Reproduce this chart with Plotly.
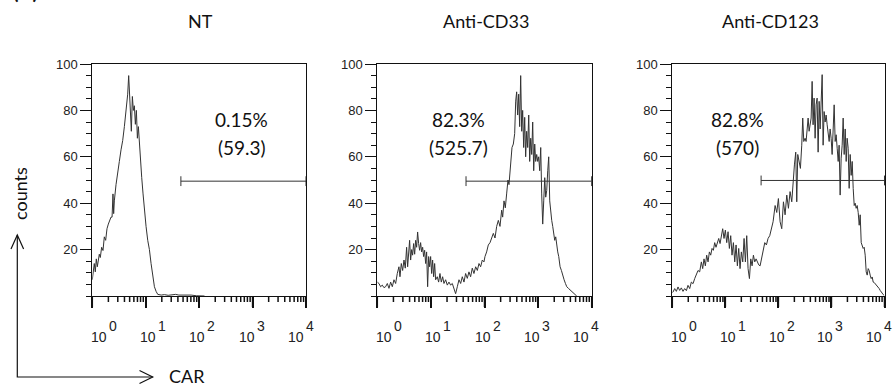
import math
import plotly.graph_objects as go

W, H = 894, 391

# ---------------- data ----------------
panel_titles = ["NT", "Anti-CD33", "Anti-CD123"]
pct_labels = ["0.15%", "82.3%", "82.8%"]
mfi_labels = ["(59.3)", "(525.7)", "(570)"]
gate_low = [45.5, 45.2, 47.2]
gate_high = [10000, 10000, 10000]
gate_y = [49.5, 49.5, 49.8]
decade_exponents = [0, 1, 2, 3, 4]
y_tick_values = [20, 40, 60, 80, 100]

# log10(CAR intensity) channel positions and counts
nt_log10 = [0.0, 0.019, 0.037, 0.056, 0.075, 0.094, 0.131, 0.15, 0.175, 0.2, 0.225, 0.25,
            0.275, 0.3, 0.325, 0.35, 0.37, 0.387, 0.4, 0.4125, 0.444, 0.475, 0.506, 0.5375,
            0.569, 0.6, 0.631, 0.6625, 0.681, 0.7, 0.7125, 0.731, 0.75, 0.769, 0.7875, 0.806,
            0.825, 0.844, 0.8625, 0.881, 0.9, 0.925, 0.95, 0.975, 1.006, 1.0375, 1.069, 1.1,
            1.131, 1.1625, 1.194, 1.225, 1.29, 1.35, 1.42, 1.5, 1.56, 1.62, 1.7, 1.78, 1.85,
            1.95, 2.1]
nt_counts = [7, 9.7, 14, 10.4, 16, 12.6, 18, 16.6, 21, 19.6, 25.5, 24,
             29, 31, 32.6, 34, 34, 44, 35.5, 41, 48, 54, 58, 63,
             67, 73, 80, 87, 95, 86, 83, 71, 86, 80, 82, 74,
             80, 68, 73, 65, 58, 51, 44, 37, 30, 24, 20, 14,
             8, 4, 2, 0.7, 0.4, 0.6, 0.3, 0.5, 0.7, 0.4, 0.5, 0.3, 0.4,
             0.1, 0]

cd33_log10 = [0, 0.031, 0.062, 0.093, 0.124, 0.155, 0.187, 0.218, 0.249, 0.28, 0.311, 0.342,
              0.373, 0.404, 0.423, 0.448, 0.473, 0.498, 0.522, 0.547, 0.566, 0.585, 0.603,
              0.622, 0.641, 0.659, 0.678, 0.697, 0.715, 0.734, 0.752, 0.771, 0.79, 0.808,
              0.827, 0.846, 0.864, 0.883, 0.902, 0.92, 0.939, 0.958, 0.976, 0.995, 1.014,
              1.032, 1.051, 1.07, 1.088, 1.119, 1.144, 1.169, 1.194, 1.219, 1.244, 1.275,
              1.306, 1.337, 1.368, 1.399, 1.43, 1.461, 1.493, 1.524, 1.555, 1.586, 1.617,
              1.648, 1.679, 1.71, 1.741, 1.772, 1.803, 1.835, 1.866, 1.897, 1.928, 1.959,
              1.99, 2.009, 2.04, 2.071, 2.103, 2.134, 2.165, 2.196, 2.227, 2.258, 2.289,
              2.32, 2.339, 2.364, 2.388, 2.413, 2.438, 2.457, 2.476, 2.494, 2.513, 2.538,
              2.563, 2.582, 2.6, 2.619, 2.638, 2.656, 2.675, 2.694, 2.712, 2.731, 2.75,
              2.768, 2.787, 2.806, 2.825, 2.843, 2.862, 2.881, 2.899, 2.918, 2.937, 2.955,
              2.974, 2.993, 3.011, 3.03, 3.049, 3.067, 3.086, 3.105, 3.124, 3.142, 3.161,
              3.18, 3.198, 3.217, 3.236, 3.254, 3.273, 3.292, 3.31, 3.329, 3.348, 3.366,
              3.385, 3.41, 3.435, 3.46, 3.485, 3.51, 3.535, 3.565, 3.596, 3.627, 3.659,
              3.69, 3.72]
cd33_counts = [6, 5.4, 4, 4.7, 3.6, 4, 5.4, 3.3, 6, 4, 7, 5.4,
               9.7, 12.6, 8.3, 14, 11, 15.5, 12, 21, 12.6, 18, 24,
               15.5, 20, 17.6, 22.6, 18, 24, 21, 27.6, 22.6, 19.7, 23,
               19, 21, 17, 19.7, 14, 19, 4, 17, 12.6, 17, 9.7,
               15.5, 8.3, 14, 7, 8.3, 6, 9.7, 6, 8.3, 5.4, 7,
               4.7, 6, 4.7, 5.4, 2.6, 1, 4, 7, 5.4, 8.3, 6,
               9.7, 7.6, 10.4, 8.3, 12, 9.7, 12.6, 11, 14, 12.6, 15.5,
               14.7, 17, 19, 22, 23, 25.5, 27, 25, 30, 32.6, 30,
               37, 34, 41, 38, 44, 50, 48, 52.6, 58, 64, 65.5,
               70, 84, 88, 78, 87, 73, 95, 71, 80, 64, 77,
               60, 71, 64, 78, 58, 68, 61, 75, 54, 65.5, 58,
               61, 58, 60, 54, 64, 44, 31, 41, 51, 42.6, 45.5,
               54, 60, 41, 35.5, 32.6, 30, 27, 24, 25.5, 21, 19,
               17, 12.6, 11, 8.3, 7, 5.4, 4, 3.3, 2.6, 1.9, 1.1,
               0.3, 0]

cd123_log10 = [0, 0.013, 0.045, 0.076, 0.108, 0.139, 0.17, 0.202, 0.233, 0.265, 0.296, 0.328,
               0.359, 0.391, 0.422, 0.453, 0.485, 0.516, 0.548, 0.573, 0.598, 0.623, 0.648,
               0.674, 0.699, 0.724, 0.749, 0.774, 0.799, 0.824, 0.85, 0.875, 0.9, 0.925,
               0.95, 0.975, 1.0, 1.026, 1.051, 1.076, 1.101, 1.126, 1.152, 1.177, 1.202,
               1.227, 1.252, 1.277, 1.302, 1.328, 1.353, 1.378, 1.403, 1.428, 1.454, 1.479,
               1.504, 1.529, 1.554, 1.579, 1.604, 1.63, 1.655, 1.68, 1.711, 1.743, 1.774,
               1.805, 1.837, 1.869, 1.9, 1.938, 1.969, 2.0, 2.032, 2.063, 2.095, 2.126,
               2.158, 2.189, 2.22, 2.252, 2.283, 2.302, 2.327, 2.346, 2.365, 2.39, 2.415,
               2.44, 2.459, 2.478, 2.503, 2.522, 2.541, 2.56, 2.579, 2.598, 2.617, 2.636,
               2.654, 2.673, 2.692, 2.711, 2.73, 2.749, 2.768, 2.787, 2.806, 2.825, 2.843,
               2.862, 2.881, 2.9, 2.919, 2.938, 2.957, 2.975, 2.994, 3.013, 3.032, 3.051,
               3.07, 3.089, 3.108, 3.127, 3.145, 3.164, 3.183, 3.202, 3.221, 3.24, 3.259,
               3.278, 3.296, 3.315, 3.334, 3.353, 3.372, 3.391, 3.41, 3.429, 3.447, 3.466,
               3.485, 3.504, 3.523, 3.542, 3.561, 3.58, 3.598, 3.617, 3.636, 3.655, 3.674,
               3.693, 3.711, 3.73, 3.749, 3.768, 3.787, 3.806, 3.825, 3.844, 3.862, 3.881,
               3.9, 3.919, 3.938, 3.957, 3.976, 3.995]
cd123_counts = [1.5, 1.7, 3.2, 2, 3.9, 2.4, 3.5, 2, 3.2, 2.3, 4.6, 3.2,
                6, 5.3, 7.5, 9, 11, 10.4, 14.7, 11.8, 16, 13, 17.6,
                14.7, 19, 17.6, 20.5, 19.7, 23, 21, 22.6, 24.8, 22.6, 26,
                29, 24.8, 28.4, 23, 27.7, 20.5, 26, 17.6, 23, 14.7, 22,
                13, 20.5, 11.8, 19, 14.7, 24.8, 14.7, 26, 11.8, 7.5, 16,
                13, 17.6, 14.7, 16, 14.7, 13.4, 13, 16, 20.5, 23, 22,
                24.8, 26, 29, 32, 39, 36, 42, 32, 29, 40.6, 35,
                43.5, 37.8, 45, 40.6, 53.6, 56.5, 62, 40.6, 61, 58, 55,
                65, 76.7, 66.6, 68, 66.6, 72, 76.7, 71, 75, 76.7, 92.5,
                73.8, 85.3, 68, 82.4, 85.3, 62, 83.9, 72, 86.7, 95.4, 65,
                79.5, 75, 78, 73.8, 69.5, 66.6, 72, 68, 61, 72, 82.4,
                66.6, 69.5, 63.7, 58, 65, 43.5, 59.4, 65, 76.7, 61, 72,
                58, 68, 63.7, 46.4, 61, 52, 58, 46.4, 39, 40, 37.8,
                39, 36, 30.5, 35, 23, 22, 20.5, 21, 17.6, 10.4, 9,
                11.8, 11, 9, 7.5, 8.2, 6, 5.8, 5.3, 4.6, 4.3, 3.9,
                3.2, 2.4, 1.7, 1.3, 0.6, 0.3]

series = [(nt_log10, nt_counts), (cd33_log10, cd33_counts), (cd123_log10, cd123_counts)]

# ---------------- layout helpers ----------------
def px(x):
    return x / W

def py(y):
    return 1 - y / H

x_domains = [[px(92.3), px(306.0)], [px(377.3), px(591.7)], [px(672.3), px(884.5)]]
y_domain = [py(296), py(64)]
AXIS_Y = 296
title_x = [200, 486, 770]
text_x_log = [2.8, 1.52, 1.22]

LINE = "#333333"
AX = "#111111"
TXT_FONT = "Lato"
NUM_FONT = "Liberation Sans"

fig = go.Figure()

for i, (lx, cy) in enumerate(series):
    xa = "x" if i == 0 else f"x{i + 1}"
    ya = "y" if i == 0 else f"y{i + 1}"
    fig.add_trace(go.Scatter(
        x=[10 ** v for v in lx], y=cy, mode="lines",
        line=dict(color=LINE, width=1), xaxis=xa, yaxis=ya,
        showlegend=False, hoverinfo="skip"))
    fig.add_trace(go.Scatter(
        x=[gate_low[i], gate_high[i]], y=[gate_y[i], gate_y[i]], mode="lines+markers",
        line=dict(color=LINE, width=1),
        marker=dict(symbol="line-ns-open", size=7, line=dict(color=LINE, width=1)),
        xaxis=xa, yaxis=ya, showlegend=False, hoverinfo="skip", cliponaxis=False))

layout = dict(
    width=W, height=H, margin=dict(l=0, r=0, t=0, b=0, autoexpand=False),
    paper_bgcolor="white", plot_bgcolor="white", showlegend=False,
)

# log tick positions as fractions of the 4-decade axis
n_dec = decade_exponents[-1] - decade_exponents[0]
major_frac = [(e - decade_exponents[0]) / n_dec for e in decade_exponents]
minor_frac = [(d + math.log10(m) - decade_exponents[0]) / n_dec
              for d in decade_exponents[:-1] for m in range(2, 10)]

annotations = []
shapes = []
for i in range(3):
    sfx = "" if i == 0 else str(i + 1)
    d0, d1 = x_domains[i]
    layout["xaxis" + sfx] = dict(
        domain=x_domains[i], type="log", range=[0, 4],
        anchor="y" + sfx,
        showline=True, linecolor=AX, linewidth=1, mirror=True,
        showgrid=False, zeroline=False, showticklabels=False,
        ticks="outside", ticklen=11, tickwidth=1.5, tickcolor=AX,
        tickmode="array", tickvals=[10 ** e for e in decade_exponents],
    )
    layout["yaxis" + sfx] = dict(
        domain=y_domain, range=[0, 100], anchor="x" + sfx,
        showline=True, linecolor=AX, linewidth=1, mirror=True,
        showgrid=False, zeroline=False,
        ticks="outside", ticklen=11, tickwidth=1, tickcolor=AX,
        tickmode="array",
        tickvals=y_tick_values, ticktext=[str(v) for v in y_tick_values],
        tickfont=dict(family=NUM_FONT, size=13, color="#222"),
        minor=dict(dtick=5, tick0=0, ticks="outside", ticklen=5, tickwidth=1,
                   tickcolor=AX, showgrid=False),
    )
    # x-axis tick marks (major decades and minor 2..9), paper-referenced so not clipped
    for f in major_frac:
        xp = d0 + f * (d1 - d0)
        shapes.append(dict(type="line", xref="paper", yref="paper", layer="above",
                           x0=xp, x1=xp, y0=py(AXIS_Y), y1=py(AXIS_Y + 11),
                           line=dict(color=AX, width=1.5)))
    for f in minor_frac:
        xp = d0 + f * (d1 - d0)
        shapes.append(dict(type="line", xref="paper", yref="paper", layer="above",
                           x0=xp, x1=xp, y0=py(AXIS_Y), y1=py(AXIS_Y + 6),
                           line=dict(color=AX, width=1.5)))
    # panel title
    annotations.append(dict(text=panel_titles[i], x=px(title_x[i]), y=py(21),
                            xref="paper", yref="paper", showarrow=False,
                            xanchor="center", yanchor="middle",
                            font=dict(family=TXT_FONT, size=18, color="#111")))
    # gate statistics
    annotations.append(dict(text=pct_labels[i], x=text_x_log[i], y=76,
                            xref="x" + sfx, yref="y" + sfx, showarrow=False,
                            xanchor="center", yanchor="middle",
                            font=dict(family=TXT_FONT, size=19, color="#111")))
    annotations.append(dict(text=mfi_labels[i], x=text_x_log[i], y=64,
                            xref="x" + sfx, yref="y" + sfx, showarrow=False,
                            xanchor="center", yanchor="middle",
                            font=dict(family=TXT_FONT, size=19, color="#111")))
    # decade tick labels 10^n
    for k, e in enumerate(decade_exponents):
        fx = 0.03 + 0.2306 * k
        annotations.append(dict(text="10", x=fx, y=py(337),
                                xref=f"x{sfx} domain", yref="paper", showarrow=False,
                                xanchor="center", yanchor="middle",
                                font=dict(family=NUM_FONT, size=14, color="#222")))
        annotations.append(dict(text=str(e), x=fx, y=py(326), xshift=8,
                                xref=f"x{sfx} domain", yref="paper", showarrow=False,
                                xanchor="left", yanchor="middle",
                                font=dict(family=NUM_FONT, size=14, color="#222")))

annotations.append(dict(text="counts", x=px(20), y=py(194), xref="paper", yref="paper",
                        showarrow=False, textangle=-90, xanchor="center", yanchor="middle",
                        font=dict(family=TXT_FONT, size=18, color="#111")))
annotations.append(dict(text="CAR", x=px(167), y=py(376), xref="paper", yref="paper",
                        showarrow=False, xanchor="left", yanchor="middle",
                        font=dict(family=TXT_FONT, size=18, color="#111")))
annotations.append(dict(text="<b>(A)</b>", x=px(25), y=py(5), xref="paper", yref="paper",
                        showarrow=False, xanchor="center", yanchor="bottom",
                        font=dict(family=TXT_FONT, size=20, color="#111")))
layout["annotations"] = annotations

def path(points):
    return "M " + " L ".join(f"{px(a):.5f},{py(b):.5f}" for a, b in points)

arrow_style = dict(type="path", xref="paper", yref="paper",
                   line=dict(color="#111", width=1.2))
shapes += [
    dict(arrow_style, path=path([(17.3, 235), (17.3, 377), (152.7, 377)])),
    dict(arrow_style, path=path([(11, 249), (17.3, 235), (23.6, 249)])),
    dict(arrow_style, path=path([(139.5, 370.5), (152.7, 377), (139.5, 383.5)])),
]
layout["shapes"] = shapes

fig.update_layout(**layout)
fig.write_html("out.html", config={"displayModeBar": False},
               post_script="document.body.style.margin='0px';document.body.style.padding='0px';")
